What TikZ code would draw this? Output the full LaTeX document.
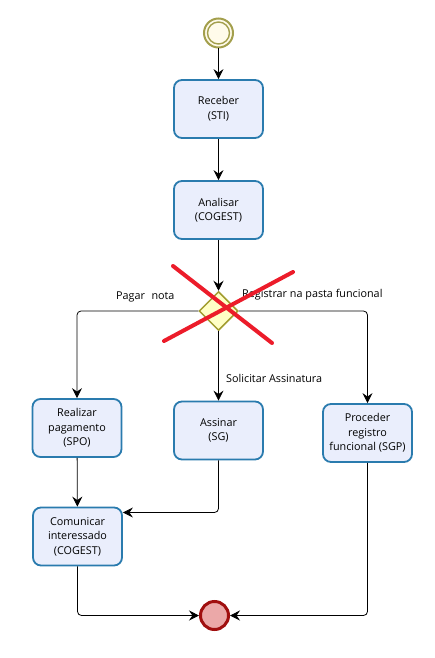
\documentclass[tikz,border=0pt]{standalone}
\usepackage{fontspec}
\setmainfont{Open Sans}
\usetikzlibrary{arrows.meta,shapes.geometric}
\definecolor{taskfill}{HTML}{EAEEFC}
\definecolor{taskborder}{HTML}{2A7BAE}
\definecolor{startc}{HTML}{A39F4C}
\definecolor{startfill}{HTML}{FFFBEA}
\definecolor{gwfill}{HTML}{FFFFC6}
\definecolor{gwborder}{HTML}{A19C2E}
\definecolor{endfill}{HTML}{EBA8A8}
\definecolor{endborder}{HTML}{A00F0F}
\definecolor{xred}{HTML}{EC1C2A}
\begin{document}
\begin{tikzpicture}[x=1pt,y=-1pt,
  task/.style={draw=taskborder, fill=taskfill, line width=1.8pt, rounded corners=8pt,
    minimum width=89pt, minimum height=58pt, align=center, inner sep=0pt,
    font=\fontsize{10.8}{14.5}\selectfont},
  flow/.style={draw=black, line width=0.8pt, -{Stealth[length=10pt,width=10pt,inset=3.5pt]}, rounded corners=4pt},
  lbl/.style={font=\fontsize{10.8}{12}\selectfont, inner sep=0pt, anchor=west},
  xline/.style={draw=xred, line width=4pt, line cap=round}]
\useasboundingbox (0,0) rectangle (434,658);
% events
\node[circle, draw=startc, fill=startfill, line width=2pt, minimum size=29pt, inner sep=0pt] (start) at (218.5,33) {};
\draw[startc, line width=1.4pt] (start.center) circle (11pt);
\node[circle, draw=endborder, fill=endfill, line width=3pt, minimum size=28pt, inner sep=0pt] (end) at (214.5,615.5) {};
% tasks
\node[task] (receber) at (218.5,109) {Receber\\(STI)};
\node[task] (analisar) at (218.5,210) {Analisar\\(COGEST)};
\node[diamond, aspect=1, draw=gwborder, fill=gwfill, line width=1.5pt, minimum size=39pt, inner sep=0pt] (gw) at (218.5,311) {};
\node[task] (realizar) at (77,428) {Realizar\\pagamento\\(SPO)};
\node[task] (assinar) at (218.5,430.5) {Assinar\\(SG)};
\node[task] (proceder) at (367.5,433) {Proceder\\registro\\funcional (SGP)};
\node[task] (comunicar) at (77.5,536.5) {Comunicar\\interessado\\(COGEST)};
% connectors
\draw[flow] (start) -- (receber);
\draw[flow] (receber) -- (analisar);
\draw[flow] (analisar) -- (gw.north);
\draw[flow] (gw.west) -| (realizar.north);
\draw[flow] (gw.south) -- (assinar.north);
\draw[flow] (gw.east) -| (proceder.north);
\draw[flow] (realizar) -- (comunicar);
\draw[flow] (assinar.south) |- ([yshift=24pt]comunicar.east);
\draw[flow] (comunicar.south) |- (end.west);
\draw[flow] (proceder.south) |- (end.east);
% labels
\node[lbl] (l1) at (116,297) {Pagar\hspace{0.6em}nota};
\node[lbl] (l2) at (242,295) {Registrar na pasta funcional};
\node[lbl] (l3) at (226,378) {Solicitar Assinatura};
% red cross
\draw[xline] (173,266) -- (272,343);
\draw[xline] (293,272) -- (164,341);
\end{tikzpicture}
\end{document}
